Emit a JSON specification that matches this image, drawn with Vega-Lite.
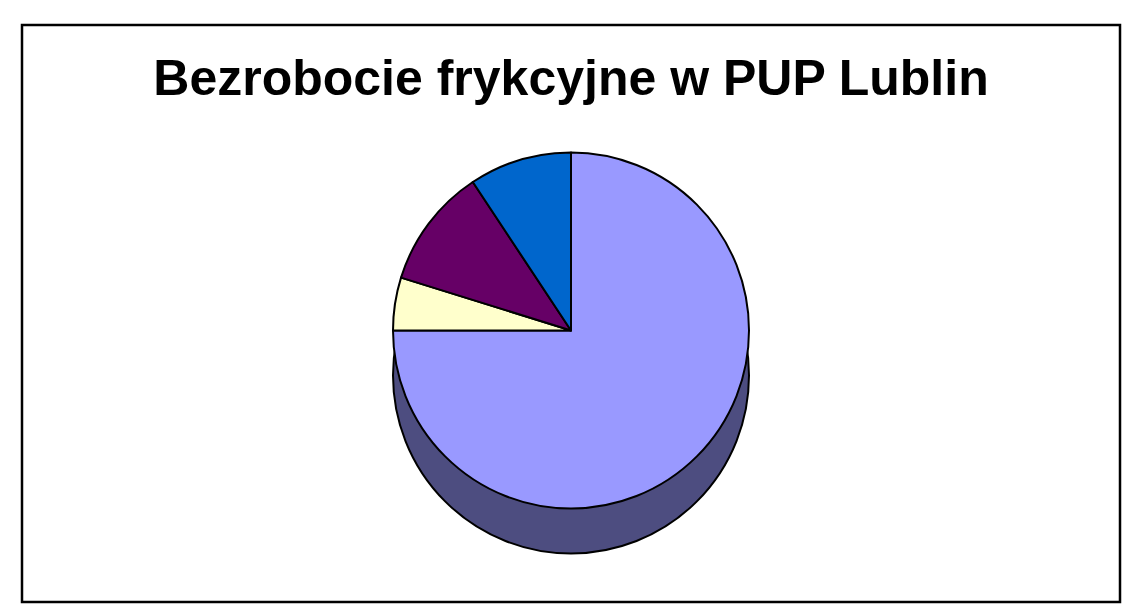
{
  "$schema": "https://vega.github.io/schema/vega-lite/v6.json",
  "width": 1128,
  "height": 607,
  "autosize": {"type": "fit", "contains": "padding"},
  "padding": {"left": 20, "top": 23, "right": 6, "bottom": 3},
  "background": "white",
  "config": {"view": {"stroke": null}},
  "title": {
    "text": "Bezrobocie frykcyjne w PUP Lublin",
    "font": "Liberation Sans",
    "fontSize": 50,
    "fontWeight": "bold",
    "color": "black",
    "anchor": "middle",
    "baseline": "alphabetic",
    "offset": -121
  },
  "data": {
    "values": [
      {"grupa": "Grupa 1", "udzial": 75.0, "nr": 1},
      {"grupa": "Grupa 2", "udzial": 4.8, "nr": 2},
      {"grupa": "Grupa 3", "udzial": 10.9, "nr": 3},
      {"grupa": "Grupa 4", "udzial": 9.3, "nr": 4}
    ]
  },
  "resolve": {"scale": {"theta": "independent"}},
  "layer": [
    {
      "transform": [{"aggregate": [{"op": "count", "as": "n"}]}],
      "mark": {"type": "rect", "fill": "white", "fillOpacity": 0, "stroke": "black", "strokeWidth": 2.5},
      "encoding": {}
    },
    {
      "transform": [{"aggregate": [{"op": "sum", "field": "udzial", "as": "razem"}]}],
      "mark": {"type": "arc", "radius": 178, "yOffset": 62, "fill": "#4D4D80", "stroke": "black", "strokeWidth": 2},
      "encoding": {
        "theta": {"field": "razem", "type": "quantitative"}
      }
    },
    {
      "mark": {"type": "arc", "radius": 178, "yOffset": 17, "stroke": "black", "strokeWidth": 2, "strokeJoin": "round"},
      "encoding": {
        "theta": {"field": "udzial", "type": "quantitative", "stack": true},
        "order": {"field": "nr", "type": "quantitative", "sort": "ascending"},
        "color": {
          "field": "grupa",
          "type": "nominal",
          "scale": {
            "domain": ["Grupa 1", "Grupa 2", "Grupa 3", "Grupa 4"],
            "range": ["#9999FF", "#FFFFCC", "#660066", "#0066CC"]
          },
          "legend": null
        }
      }
    }
  ]
}
